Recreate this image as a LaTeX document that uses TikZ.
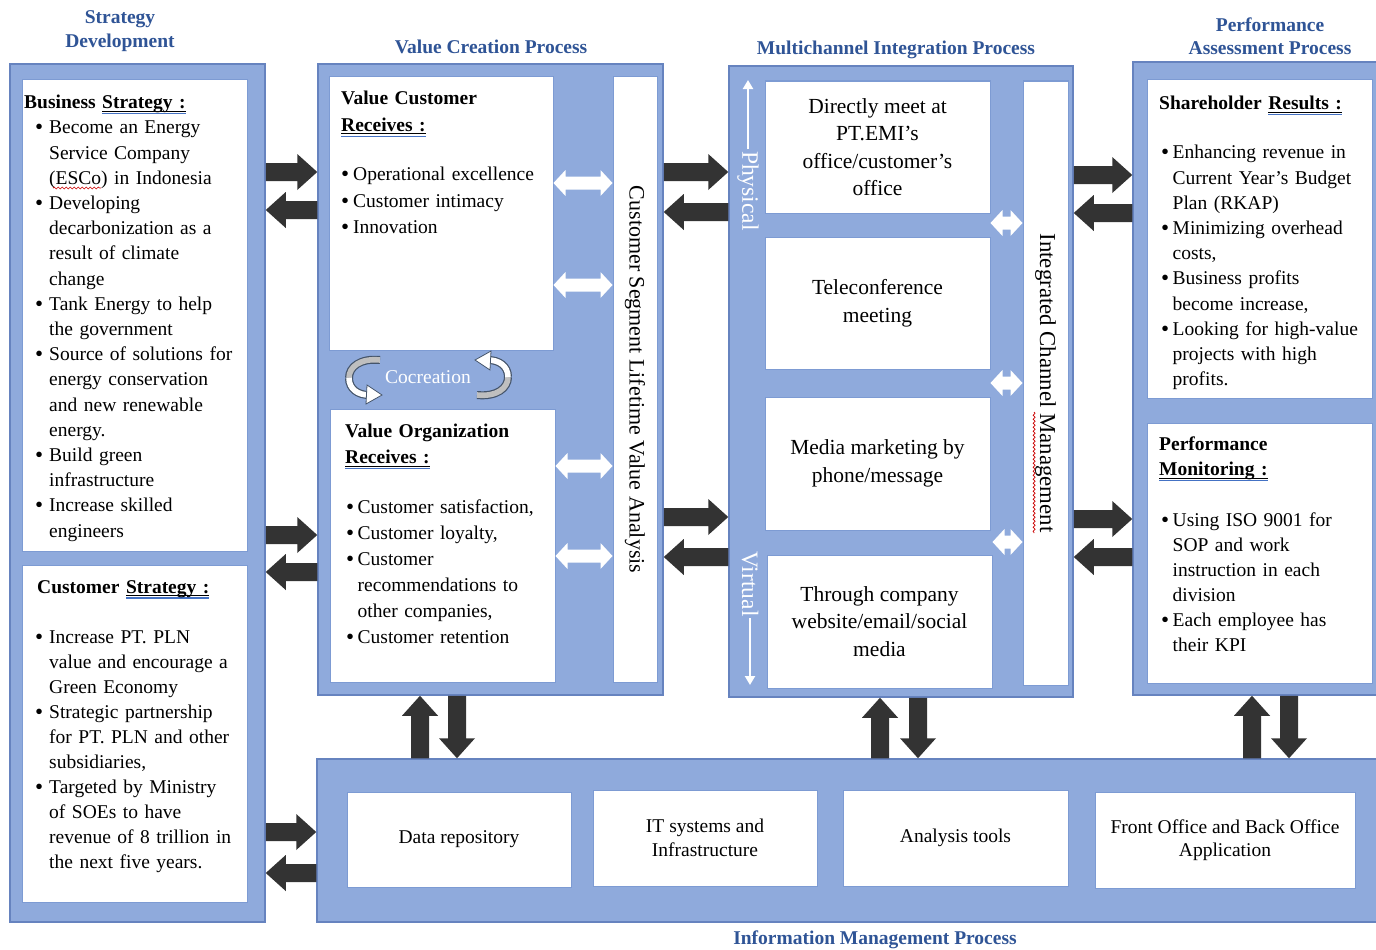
\documentclass[tikz,border=0pt]{standalone}
\usepackage{fontspec}
\setmainfont{Liberation Serif}
\usetikzlibrary{calc,fit,arrows.meta,decorations.pathmorphing}
\definecolor{bfill}{HTML}{8FAADC}
\definecolor{bline}{HTML}{6683BF}
\definecolor{wline}{HTML}{7D9BD3}
\definecolor{tblue}{HTML}{2F5496}
\definecolor{agray}{HTML}{333333}
\definecolor{ulblue}{HTML}{4472C4}
\definecolor{cogray}{HTML}{BFBFBF}
\definecolor{coline}{HTML}{44546A}
\newcommand\bodyfont{\fontsize{19.5}{25.2}\selectfont}
\newcommand\dul[1]{\setbox0=\hbox{#1}\rlap{\rule[-3pt]{\wd0}{1pt}}\rlap{\color{ulblue}\rule[-5.5pt]{\wd0}{1.2pt}}\box0}
\newcommand\bdot{\raisebox{-1pt}{\fontsize{23}{0}\selectfont\textbullet}}
\newcommand\bi[3]{\par\noindent\hangindent=\dimexpr#1+#2\relax\hangafter=1\hspace*{#1}\makebox[#2][l]{\bdot}#3}
\newcommand\blk[2]{%
  \coordinate (bkH) at ($(#2)!20pt!(#1)$);
  \fill[agray] ($(#1)!9pt!90:(#2)$) -- ($(bkH)!9pt!-90:(#1)$) -- ($(bkH)!18pt!-90:(#1)$) -- (#2) -- ($(bkH)!18pt!90:(#1)$) -- ($(bkH)!9pt!90:(#1)$) -- ($(#1)!9pt!-90:(#2)$) -- cycle;}
\newcommand\hblk[3]{\coordinate (bkA) at (#1 |- 0,#3); \coordinate (bkB) at (#2 |- 0,#3); \blk{bkA}{bkB}}
\newcommand\vblk[3]{\coordinate (bkA) at (#1 -| #3,0); \coordinate (bkB) at (#2 -| #3,0); \blk{bkA}{bkB}}
\newcommand\wdb[2]{%
  \coordinate (wdH1) at ($(#1)!12pt!(#2)$);
  \coordinate (wdH2) at ($(#2)!12pt!(#1)$);
  \fill[white] (#1) -- ($(wdH1)!13pt!90:(#2)$) -- ($(wdH1)!6.5pt!90:(#2)$) -- ($(wdH2)!6.5pt!-90:(#1)$) -- ($(wdH2)!13pt!-90:(#1)$) -- (#2) -- ($(wdH2)!13pt!90:(#1)$) -- ($(wdH2)!6.5pt!90:(#1)$) -- ($(wdH1)!6.5pt!-90:(#2)$) -- ($(wdH1)!13pt!-90:(#2)$) -- cycle;}
\newcommand\hwdb[3]{\coordinate (wdA) at (#1 |- 0,#3); \coordinate (wdB) at (#2 |- 0,#3); \wdb{wdA}{wdB}}
\tikzset{
  bluebox/.style={fill=bfill, draw=bline, line width=1.5pt, inner sep=0pt},
  wbox/.style={fill=white, draw=wline, line width=1pt, inner sep=0pt},
  ttl/.style={font=\fontsize{19.5}{23.5}\selectfont\bfseries, text=tblue, align=center, inner sep=0pt},
  lst/.style={anchor=north west, inner sep=0pt, text width=#1, align=left},
  mtxt/.style={font=\fontsize{21.5}{27.5}\selectfont, align=center, inner sep=0pt},
  btxt/.style={font=\fontsize{19.5}{23.5}\selectfont, align=center, inner sep=0pt},
  vtxt/.style={rotate=-90, inner sep=0pt},
  pvtxt/.style={font=\fontsize{23.5}{24}\selectfont, text=white, rotate=-90, inner sep=1.5pt},
  cob/.style={line width=8pt, draw=coline},
  cof/.style={line width=5.6pt},
  spell/.style={draw=red!80!black, line width=0.7pt, decorate, decoration={snake, amplitude=1pt, segment length=4pt}},
}
\begin{document}
\begin{tikzpicture}[x=1pt,y=-1pt]
\useasboundingbox (0,0) rectangle (1376,950);
\fill[white] (0,0) rectangle (1376,950);
% outer process boxes
\node[bluebox, fit={(10,64)(265,922)}] (sd) {};
\node[bluebox, fit={(318,64)(663,695)}] (vc) {};
\node[bluebox, fit={(729,66)(1073,697)}] (mc) {};
\node[bluebox, fit={(1133,62)(1390,695)}] (pa) {};
\node[bluebox, fit={(317,759)(1390,922)}] (im) {};
% titles
\node[ttl] (t1) at (120,31) {Strategy\\Development};
\node[ttl] (t2) at (491,47) {Value Creation Process};
\node[ttl] (t3) at (896,50) {Multichannel Integration Process};
\node[ttl] (t4) at (1270,36) {Performance\\Assessment Process};
\node[ttl] (t5) at (875,940) {Information Management Process};
% inner white boxes
\node[wbox, fit={(22,80)(247,551)}] (bs) {};
\node[wbox, fit={(22,565)(247,902)}] (cs) {};
\node[wbox, fit={(329,77)(553,350)}] (vcr) {};
\node[wbox, fit={(330,409)(555,682)}] (vor) {};
\node[wbox, fit={(613,77)(657,682)}] (cslb) {};
\node[wbox, fit={(765,81)(990,213)}] (m1) {};
\node[wbox, fit={(765,237)(990,369)}] (m2) {};
\node[wbox, fit={(765,397)(990,530)}] (m3) {};
\node[wbox, fit={(767,555)(992,688)}] (m4) {};
\node[wbox, fit={(1023,81)(1068,685)}] (icmb) {};
\node[wbox, fit={(1147,80)(1372,398)}] (sr) {};
\node[wbox, fit={(1147,423)(1372,683)}] (pm) {};
\node[wbox, fit={(347,792)(571,887)}] (dr) {};
\node[wbox, fit={(593,790)(817,886)}] (it) {};
\node[wbox, fit={(843,790)(1068,886)}] (at) {};
\node[wbox, fit={(1095,792)(1355,888)}] (fo) {};
% list texts
\node[lst=235pt, font=\bodyfont] (bst) at (24,95) {\noindent\textbf{Business \dul{Strategy :}}%
\bi{11pt}{14pt}{Become an Energy\newline Service Company\newline (ESCo) in Indonesia}%
\bi{11pt}{14pt}{Developing\newline decarbonization as a\newline result of climate\newline change}%
\bi{11pt}{14pt}{Tank Energy to help\newline the government}%
\bi{11pt}{14pt}{Source of solutions for\newline energy conservation\newline and new renewable\newline energy.}%
\bi{11pt}{14pt}{Build green\newline infrastructure}%
\bi{11pt}{14pt}{Increase skilled\newline engineers}\par};
\node[lst=235pt, font=\fontsize{19.5}{25}\selectfont] (cst) at (24,580) {\noindent\hspace*{13pt}\textbf{Customer \dul{Strategy :}}\par\vspace{25pt}%
\bi{11pt}{14pt}{Increase PT. PLN\newline value and encourage a\newline Green Economy}%
\bi{11pt}{14pt}{Strategic partnership\newline for PT. PLN and other\newline subsidiaries,}%
\bi{11pt}{14pt}{Targeted by Ministry\newline of SOEs to have\newline revenue of 8 trillion in\newline the next five years.}\par};
\node[lst=215pt, font=\fontsize{19.5}{26.5}\selectfont] (vct) at (341,91) {\noindent\textbf{Value Customer}\newline\textbf{\dul{Receives :}}\par\vspace{23pt}%
\bi{0pt}{12pt}{Operational excellence}%
\bi{0pt}{12pt}{Customer intimacy}%
\bi{0pt}{12pt}{Innovation}\par};
\node[lst=215pt, font=\fontsize{19.5}{26}\selectfont] (vot) at (345,424) {\noindent\textbf{Value Organization}\newline\textbf{\dul{Receives :}}\par\vspace{24pt}%
\bi{1pt}{11.5pt}{Customer satisfaction,}%
\bi{1pt}{11.5pt}{Customer loyalty,}%
\bi{1pt}{11.5pt}{Customer\newline recommendations to\newline other companies,}%
\bi{1pt}{11.5pt}{Customer retention}\par};
\node[lst=215pt, font=\bodyfont] (srt) at (1159,96) {\noindent\textbf{Shareholder \dul{Results :}}\par\vspace{24pt}%
\bi{2pt}{11.5pt}{Enhancing revenue in\newline Current Year's Budget\newline Plan (RKAP)}%
\bi{2pt}{11.5pt}{Minimizing overhead\newline costs,}%
\bi{2pt}{11.5pt}{Business profits\newline become increase,}%
\bi{2pt}{11.5pt}{Looking for high-value\newline projects with high\newline profits.}\par};
\node[lst=215pt, font=\fontsize{19.5}{25}\selectfont] (pmt) at (1159,437) {\noindent\textbf{Performance}\newline\textbf{\dul{Monitoring :}}\par\vspace{26pt}%
\bi{2pt}{11.5pt}{Using ISO 9001 for\newline SOP and work\newline instruction in each\newline division}%
\bi{2pt}{11.5pt}{Each employee has\newline their KPI}\par};
% centred texts
\node[mtxt] (m1t) at (m1.center) {Directly meet at\\PT.EMI’s\\office/customer’s\\office};
\node[mtxt] (m2t) at (m2.center) {Teleconference\\meeting};
\node[mtxt] (m3t) at (m3.center) {Media marketing by\\phone/message};
\node[mtxt] (m4t) at (m4.center) {Through company\\website/email/social\\media};
\node[btxt] (drt) at (dr.center) {Data repository};
\node[btxt] (itt) at (it.center) {IT systems and\\Infrastructure};
\node[btxt] (att) at (at.center) {Analysis tools};
\node[btxt] (fot) at (fo.center) {Front Office and Back Office\\Application};
% vertical texts
\node[vtxt, font=\fontsize{22}{24}\selectfont] (cslt) at (cslb.center) {Customer Segment Lifetime Value Analysis};
\node[vtxt, font=\fontsize{22.8}{24}\selectfont] (icmt) at (icmb.center) {Integrated Channel Management};
\node[pvtxt] (phy) at (748,191) {Physical};
\node[pvtxt] (vir) at (750,584) {Virtual};
\coordinate (phyTop) at (748,80);
\coordinate (virBot) at (750,685);
\draw[white, line width=2.2pt, -{Triangle[length=9pt,width=10pt]}] (phy.west) -- (phyTop);
\draw[white, line width=2.2pt, -{Triangle[length=9pt,width=10pt]}] (vir.east) -- (virBot);
% spell-check marks
\coordinate (sp1) at (53,188);
\coordinate (sp2) at (101,188);
\draw[spell] (sp1) -- (sp2);
\coordinate (sp3) at (1034,412);
\coordinate (sp4) at (1034,533);
\draw[spell] (sp3) -- (sp4);
% cocreation
\node[font=\bodyfont, text=white, inner sep=0pt] (cocr) at (428,377) {Cocreation};
\draw[cob] (380,360) .. controls (360,358) and (349,367) .. (349,378);
\draw[cob] (349,378) .. controls (349,389) and (358,395) .. (369,395);
\draw[cof, cogray] (380,360) .. controls (360,358) and (349,367) .. (349,378);
\draw[cof, white] (349,378) .. controls (349,389) and (358,395) .. (369,395);
\filldraw[fill=white, draw=coline, line width=0.8pt] (367,385) -- (382,395) -- (366,404) -- cycle;
\draw[cob] (477,395) .. controls (497,397) and (508,388) .. (508,377);
\draw[cob] (508,377) .. controls (508,366) and (499,360) .. (488,360);
\draw[cof, cogray] (477,395) .. controls (497,397) and (508,388) .. (508,377);
\draw[cof, white] (508,377) .. controls (508,366) and (499,360) .. (488,360);
\filldraw[fill=white, draw=coline, line width=0.8pt] (490,370) -- (475,360) -- (491,351) -- cycle;
% white double arrows
\hwdb{vcr.east}{cslb.west}{183}
\hwdb{vcr.east}{cslb.west}{285}
\hwdb{vor.east}{cslb.west}{466}
\hwdb{vor.east}{cslb.west}{556}
\hwdb{m1.east}{icmb.west}{223}
\hwdb{m2.east}{icmb.west}{383}
\hwdb{m4.east}{icmb.west}{542}
% dark block arrows
\hblk{sd.east}{vc.west}{172}
\hblk{vc.west}{sd.east}{210}
\hblk{sd.east}{vc.west}{535}
\hblk{vc.west}{sd.east}{572}
\hblk{sd.east}{im.west}{832}
\hblk{im.west}{sd.east}{873}
\hblk{vc.east}{mc.west}{172}
\hblk{mc.west}{vc.east}{212}
\hblk{vc.east}{mc.west}{517}
\hblk{mc.west}{vc.east}{557}
\hblk{mc.east}{pa.west}{175}
\hblk{pa.west}{mc.east}{213}
\hblk{mc.east}{pa.west}{519}
\hblk{pa.west}{mc.east}{557}
\vblk{im.north}{vc.south}{420}
\vblk{vc.south}{im.north}{457}
\vblk{im.north}{mc.south}{880}
\vblk{mc.south}{im.north}{918}
\vblk{im.north}{pa.south}{1252}
\vblk{pa.south}{im.north}{1289}
\end{tikzpicture}
\end{document}
